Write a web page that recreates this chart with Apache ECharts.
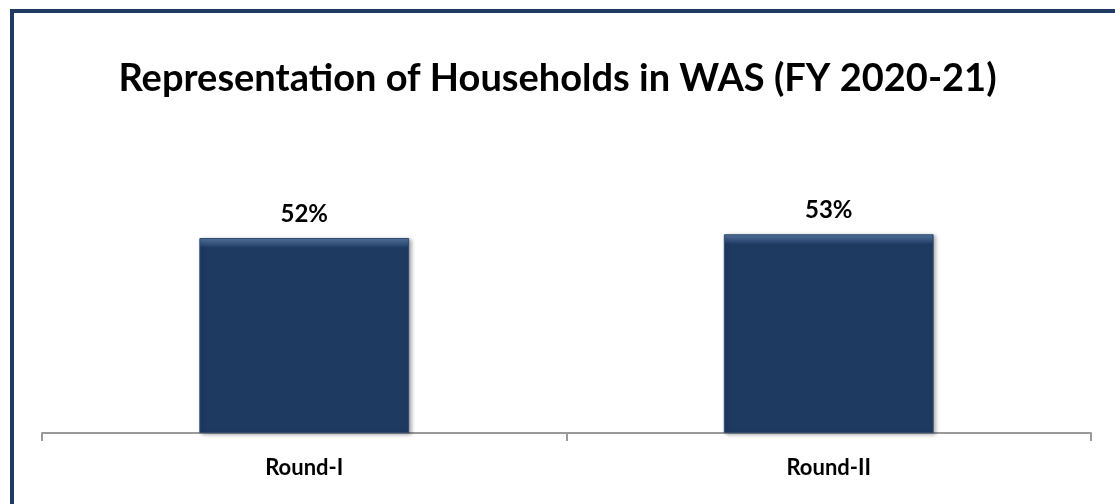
<!DOCTYPE html>
<html>
<head>
<meta charset="utf-8">
<script src="https://cdn.jsdelivr.net/npm/echarts@6/dist/echarts.min.js"></script>
<style>
  html, body { margin: 0; padding: 0; background: #fff; overflow: hidden; }
  #frame { position: absolute; left: 10px; top: 9px; width: 1300px; height: 700px; border: 4px solid #1f3b62; box-sizing: border-box; }
  #chart { position: absolute; left: 0; top: 0; width: 1115px; height: 504px; }
</style>
</head>
<body>
<div id="frame"></div>
<div id="chart"></div>
<script>
const titleText = 'Representation of Households in WAS (FY 2020-21)';
const rounds = ['Round-I', 'Round-II'];
const shares = [52, 53];

const chart = echarts.init(document.getElementById('chart'));
chart.setOption({
  backgroundColor: 'transparent',
  title: {
    text: titleText,
    left: 'center',
    top: 55,
    textStyle: { fontFamily: 'Lato', fontWeight: 'bold', fontSize: 38, color: '#000' }
  },
  grid: { left: 42, right: 24, top: 58, bottom: 71 },
  xAxis: {
    type: 'category',
    data: rounds,
    axisLine: { lineStyle: { color: '#9a9a9a', width: 2 } },
    axisTick: { show: true, alignWithLabel: false, length: 8, lineStyle: { color: '#9a9a9a', width: 2 } },
    axisLabel: { margin: 24, fontFamily: 'Lato', fontWeight: 'bold', fontSize: 22, color: '#000' }
  },
  yAxis: { type: 'value', min: 0, max: 100, show: false, splitLine: { show: false } },
  series: [{
    type: 'bar',
    data: shares,
    barWidth: '40%',
    itemStyle: {
      color: new echarts.graphic.LinearGradient(0, 0, 0, 1, [
        { offset: 0, color: '#5a7aa3' },
        { offset: 0.025, color: '#3a5a84' },
        { offset: 0.05, color: '#1f3a61' },
        { offset: 1, color: '#1f3a61' }
      ]),
      borderColor: '#2d4a72',
      borderWidth: 1,
      shadowColor: 'rgba(0,0,0,0.35)',
      shadowBlur: 4,
      shadowOffsetX: 2,
      shadowOffsetY: 1
    },
    label: {
      show: true,
      position: 'top',
      distance: 12,
      formatter: '{c}%',
      fontFamily: 'Lato',
      fontWeight: 'bold',
      fontSize: 24,
      color: '#000'
    }
  }]
});
</script>
</body>
</html>
